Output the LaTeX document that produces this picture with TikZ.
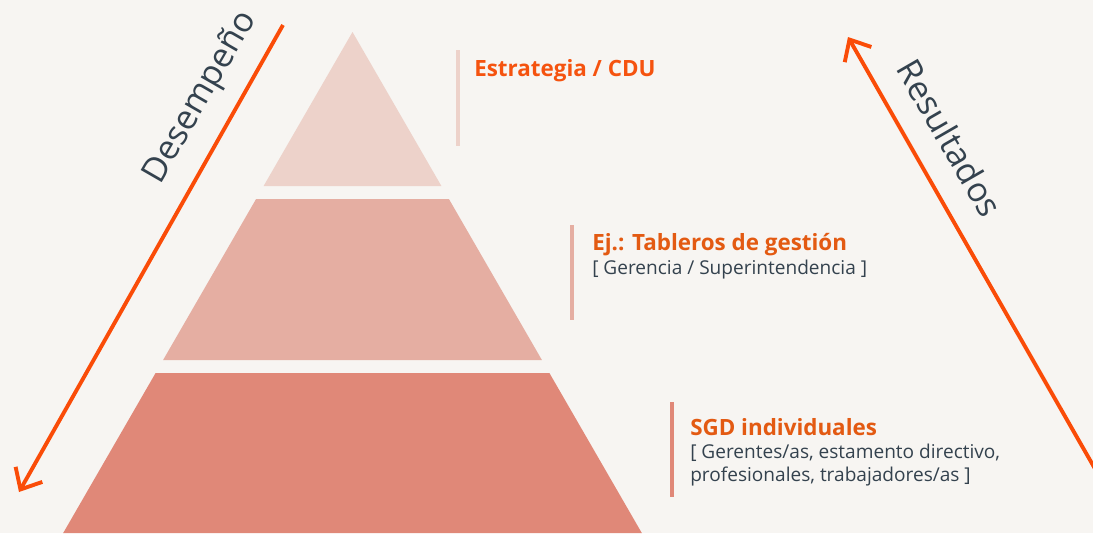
\documentclass[tikz,border=0pt]{standalone}
\usepackage{fontspec}
\setmainfont{Open Sans}
\usetikzlibrary{arrows.meta}
\definecolor{bg}{HTML}{F7F5F2}
\definecolor{lvlA}{HTML}{EDD2CA}
\definecolor{lvlB}{HTML}{E5AEA2}
\definecolor{lvlC}{HTML}{E08878}
\definecolor{arrowor}{HTML}{FA4C08}
\definecolor{headA}{HTML}{F5530F}
\definecolor{headB}{HTML}{E35A12}
\definecolor{darktxt}{HTML}{34424E}
\tikzset{
  arrowline/.style={draw=arrowor, line width=2.9pt, -{Straight Barb[length=13pt,width=23pt,line width=2.9pt]}},
  sidebar/.style={line width=3pt},
  headtxt/.style={inner sep=0pt, anchor=base west, font=\fontsize{16.8}{20}\selectfont\bfseries},
  subtxt/.style={inner sep=0pt, anchor=base west, text=darktxt, font=\fontsize{14.3}{17}\selectfont},
  sidelbl/.style={inner sep=0pt, text=darktxt, font=\fontsize{25.5}{30}\selectfont},
}
\begin{document}
\begin{tikzpicture}[x=0.75pt, y=-0.75pt]
\useasboundingbox (0,0) rectangle (1093,533);
\clip (0,0) rectangle (1093,533);
\fill[bg] (0,0) rectangle (1093,533);
% pyramid
\fill[lvlA] (352.5,32) -- (441.4,186) -- (263.6,186) -- cycle;
\fill[lvlB] (256.1,199) -- (448.9,199) -- (541.9,360) -- (163.1,360) -- cycle;
\fill[lvlC] (155.6,373) -- (549.4,373) -- (641.8,533) -- (63.2,533) -- cycle;
% side bars
\draw[sidebar, lvlA] (458,50) -- (458,146);
\draw[sidebar, lvlB] (571.5,225) -- (571.5,320);
\draw[sidebar, lvlC] (672,402) -- (672,497);
% texts
\node[headtxt, text=headA] (t1) at (474,76.7) {Estrategia / CDU};
\node[headtxt, text=headB] (t2) at (592,250.7) {Ej.: Tableros de gestión};
\node[subtxt] (t2s) at (592,274) {[ Gerencia / Superintendencia ]};
\node[headtxt, text=headB] (t3) at (690,435) {SGD individuales};
\node[subtxt] (t3a) at (690,458.3) {[ Gerentes/as, estamento directivo,};
\node[subtxt] (t3b) at (690,481.7) {profesionales, trabajadores/as ]};
% arrows
\coordinate (dstart) at (283,25);
\coordinate (dend) at (19,492);
\coordinate (rstart) at (1110,495);
\coordinate (rend) at (848,37);
\draw[arrowline] (dstart) -- (dend);
\draw[arrowline] (rstart) -- (rend);
\node[sidelbl, rotate=60] (lblD) at (201,98) {Desempeño};
\node[sidelbl, rotate=-60] (lblR) at (950,138) {Resultados};
\end{tikzpicture}
\end{document}
